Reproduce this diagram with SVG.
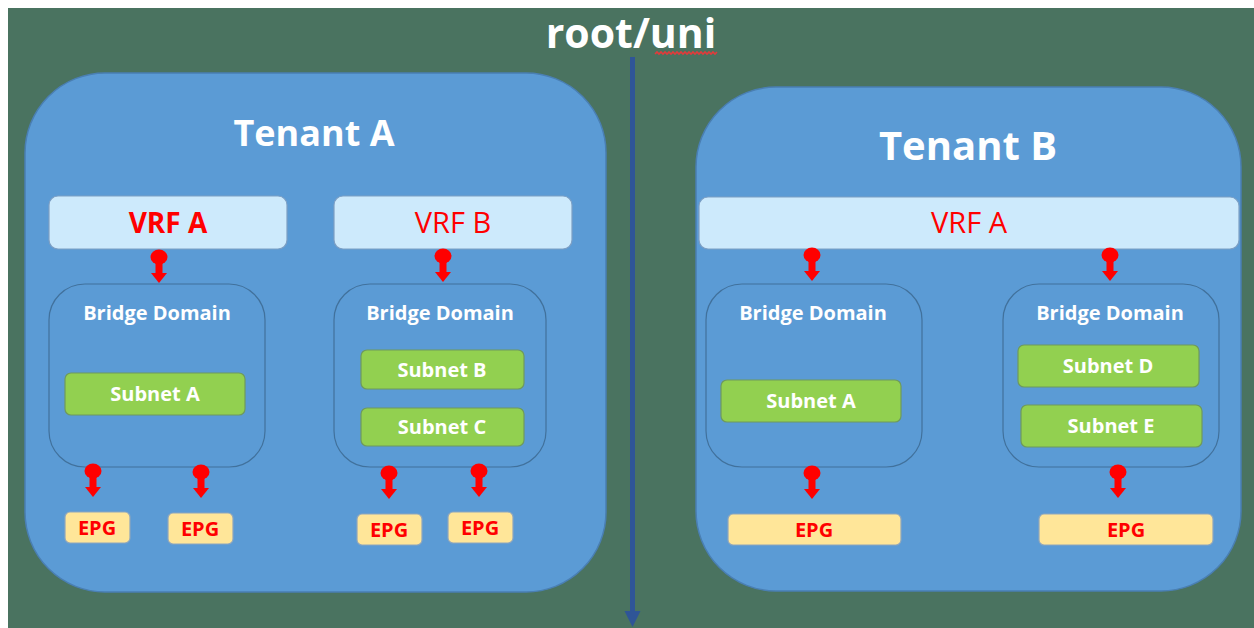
<svg xmlns="http://www.w3.org/2000/svg" xmlns:xlink="http://www.w3.org/1999/xlink" width="1254" height="628" viewBox="0 0 1254 628">
  <style>
    .tenant { fill: #5b9bd5; stroke: #4a7fb3; stroke-width: 1.5; }
    .bd { fill: none; stroke: #41719c; stroke-width: 1.2; }
    .vrf { fill: #cdeafc; stroke: #7d9fc4; stroke-width: 1.2; }
    .subnet { fill: #92d050; stroke: #6f9a5c; stroke-width: 1.2; }
    .epg { fill: #ffe699; stroke: #8ea6bd; stroke-width: 1.2; }
    text { font-family: "Open Sans", "Liberation Sans", sans-serif; text-anchor: middle; }
    .title { fill: #ffffff; font-weight: 700; }
    .bdlabel { fill: #ffffff; font-weight: 700; font-size: 20px; }
    .snlabel { fill: #ffffff; font-weight: 700; font-size: 20px; }
    .epglabel { fill: #ff0000; font-weight: 700; font-size: 20px; }
    .vrflabel { fill: #ff0000; font-size: 29px; }
    .vrfbold { font-weight: 700; font-size: 28px; }
  </style>
  <defs>
    <!-- red pin connector: ball at the origin, short arrow pointing down -->
    <g id="pin" fill="#ff0000">
      <ellipse cx="0" cy="0" rx="8.5" ry="7.5"/>
      <rect x="-3.5" y="6" width="7" height="11"/>
      <polygon points="-8,16 8,16 0,26"/>
    </g>
  </defs>

  <!-- backdrop -->
  <rect x="0" y="0" width="1254" height="628" fill="#ffffff"/>
  <rect x="8" y="8" width="1246" height="620" fill="#4a7360"/>

  <!-- root/uni heading -->
  <g id="root-uni">
    <text class="title" x="631" y="48" font-size="41">root/uni</text>
    <polyline points="655,54 657,52 659,54 661,52 663,54 665,52 667,54 669,52 671,54 673,52 675,54 677,52 679,54 681,52 683,54 685,52 687,54 689,52 691,54 693,52 695,54 697,52 699,54 701,52 703,54 705,52 707,54 709,52 711,54 713,52 715,54 717,52" fill="none" stroke="#e23b3b" stroke-width="1.6"/>
  </g>

  <!-- Tenant A -->
  <g id="tenant-a">
    <rect class="tenant" x="25" y="73" width="581" height="519" rx="80" ry="80"/>
    <text class="title" x="314" y="146" font-size="36">Tenant A</text>
  </g>
  <g id="tenant-a-vrf-a">
    <rect class="vrf" x="49" y="196" width="238" height="53" rx="9"/>
    <text class="vrflabel vrfbold" x="168" y="233">VRF A</text>
  </g>
  <g id="tenant-a-vrf-b">
    <rect class="vrf" x="334" y="196" width="238" height="53" rx="9"/>
    <text class="vrflabel" x="453" y="233">VRF B</text>
  </g>
  <g id="tenant-a-bd-1">
    <rect class="bd" x="49" y="284" width="216" height="183" rx="36"/>
    <text class="bdlabel" x="157" y="320">Bridge Domain</text>
  </g>
  <g id="tenant-a-subnet-a">
    <rect class="subnet" x="65" y="373" width="180" height="42" rx="6"/>
    <text class="snlabel" x="155" y="401">Subnet A</text>
  </g>
  <g id="tenant-a-bd-2">
    <rect class="bd" x="334" y="284" width="212" height="183" rx="36"/>
    <text class="bdlabel" x="440" y="320">Bridge Domain</text>
  </g>
  <g id="tenant-a-subnet-b">
    <rect class="subnet" x="361" y="350" width="163" height="39" rx="6"/>
    <text class="snlabel" x="442" y="377">Subnet B</text>
  </g>
  <g id="tenant-a-subnet-c">
    <rect class="subnet" x="361" y="408" width="163" height="38" rx="6"/>
    <text class="snlabel" x="442" y="434">Subnet C</text>
  </g>
  <g id="tenant-a-epg-1">
    <rect class="epg" x="65" y="512" width="65" height="31" rx="5"/>
    <text class="epglabel" x="97" y="535">EPG</text>
  </g>
  <g id="tenant-a-epg-2">
    <rect class="epg" x="168" y="513" width="65" height="31" rx="5"/>
    <text class="epglabel" x="200" y="536">EPG</text>
  </g>
  <g id="tenant-a-epg-3">
    <rect class="epg" x="357" y="514" width="65" height="31" rx="5"/>
    <text class="epglabel" x="389" y="537">EPG</text>
  </g>
  <g id="tenant-a-epg-4">
    <rect class="epg" x="448" y="512" width="65" height="31" rx="5"/>
    <text class="epglabel" x="480" y="535">EPG</text>
  </g>

  <!-- Tenant B -->
  <g id="tenant-b">
    <rect class="tenant" x="696" y="87" width="545" height="504" rx="80" ry="80"/>
    <text class="title" x="968" y="160" font-size="40">Tenant B</text>
  </g>
  <g id="tenant-b-vrf-a">
    <rect class="vrf" x="699" y="197" width="540" height="52" rx="9"/>
    <text class="vrflabel" x="969" y="233">VRF A</text>
  </g>
  <g id="tenant-b-bd-1">
    <rect class="bd" x="706" y="284" width="216" height="183" rx="36"/>
    <text class="bdlabel" x="813" y="320">Bridge Domain</text>
  </g>
  <g id="tenant-b-subnet-a">
    <rect class="subnet" x="721" y="380" width="180" height="42" rx="6"/>
    <text class="snlabel" x="811" y="408">Subnet A</text>
  </g>
  <g id="tenant-b-bd-2">
    <rect class="bd" x="1003" y="284" width="216" height="183" rx="36"/>
    <text class="bdlabel" x="1110" y="320">Bridge Domain</text>
  </g>
  <g id="tenant-b-subnet-d">
    <rect class="subnet" x="1018" y="345" width="181" height="42" rx="6"/>
    <text class="snlabel" x="1108" y="373">Subnet D</text>
  </g>
  <g id="tenant-b-subnet-e">
    <rect class="subnet" x="1021" y="405" width="181" height="42" rx="6"/>
    <text class="snlabel" x="1111" y="433">Subnet E</text>
  </g>
  <g id="tenant-b-epg-1">
    <rect class="epg" x="728" y="514" width="173" height="31" rx="5"/>
    <text class="epglabel" x="814" y="537">EPG</text>
  </g>
  <g id="tenant-b-epg-2">
    <rect class="epg" x="1039" y="514" width="174" height="31" rx="5"/>
    <text class="epglabel" x="1126" y="537">EPG</text>
  </g>

  <!-- connectors -->
  <g id="connectors">
    <!-- root/uni spine -->
    <line x1="632.5" y1="57" x2="632.5" y2="613" stroke="#2f5597" stroke-width="5"/>
    <polygon points="624.5,611 640.5,611 632.5,627" fill="#2f5597"/>
    <!-- VRF to bridge domain -->
    <use xlink:href="#pin" x="159" y="257"/>
    <use xlink:href="#pin" x="443" y="256"/>
    <use xlink:href="#pin" x="812" y="255"/>
    <use xlink:href="#pin" x="1110" y="255"/>
    <!-- bridge domain to EPG -->
    <use xlink:href="#pin" x="93" y="471"/>
    <use xlink:href="#pin" x="201" y="472"/>
    <use xlink:href="#pin" x="389" y="473"/>
    <use xlink:href="#pin" x="479" y="471"/>
    <use xlink:href="#pin" x="812" y="473"/>
    <use xlink:href="#pin" x="1118" y="472"/>
  </g>
</svg>
